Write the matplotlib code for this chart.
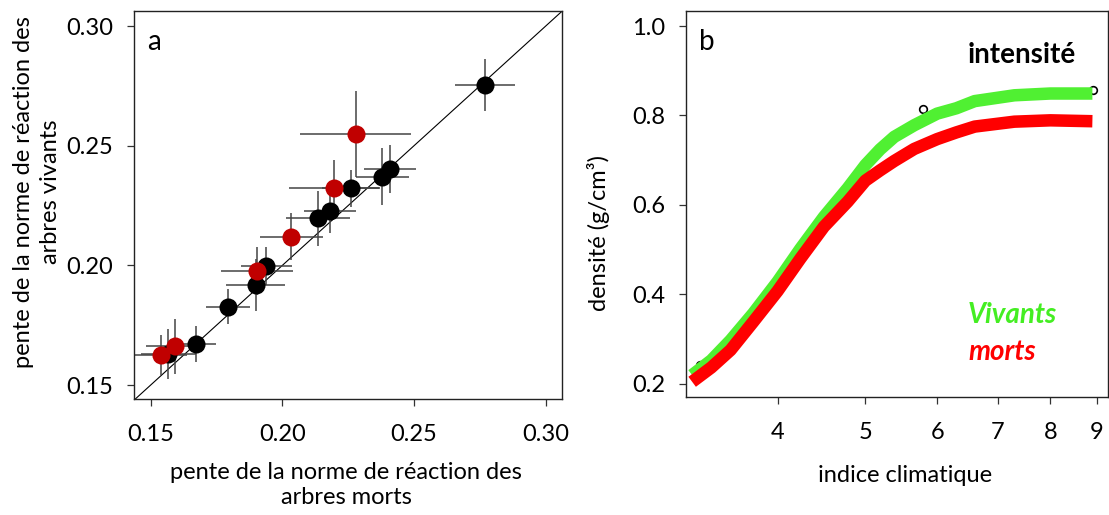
import matplotlib
matplotlib.use("Agg")
import matplotlib.pyplot as plt

plt.rcParams['font.family'] = ['Lato', 'DejaVu Sans']

# panneau a : pentes des normes de réaction (morts en x, vivants en y)
noir_morts = [0.2769, 0.2409, 0.2379, 0.2260, 0.2181, 0.2136, 0.1940, 0.1900, 0.1795, 0.1671, 0.1567]
noir_vivants = [0.2754, 0.2403, 0.2371, 0.2322, 0.2227, 0.2197, 0.1999, 0.1918, 0.1828, 0.1672, 0.1630]
noir_err_x = [0.0115, 0.0098, 0.0101, 0.0110, 0.0098, 0.0121, 0.0095, 0.0112, 0.0083, 0.0077, 0.0104]
noir_err_y = [0.0110, 0.0100, 0.0118, 0.0077, 0.0090, 0.0116, 0.0080, 0.0110, 0.0073, 0.0076, 0.0106]

rouge_morts = [0.2278, 0.2196, 0.2034, 0.1904, 0.1591, 0.1539]
rouge_vivants = [0.2549, 0.2325, 0.2120, 0.1978, 0.1663, 0.1626]
rouge_err_x = [0.0210, 0.0170, 0.0120, 0.0137, 0.0108, 0.0100]
rouge_err_y = [0.0180, 0.0115, 0.0098, 0.0100, 0.0115, 0.0085]

ticks_a = [0.15, 0.20, 0.25, 0.30]

# panneau b : densité selon l'indice climatique
indice = [3.22, 3.38, 3.55, 3.76, 4.0, 4.24, 4.5, 4.78, 5.0, 5.19, 5.38, 5.66, 6.0, 6.3, 6.6, 7.3, 8.0, 8.9]
dens_vivants = [0.219, 0.252, 0.297, 0.357, 0.428, 0.502, 0.573, 0.637, 0.689, 0.724, 0.752, 0.778,
                0.804, 0.816, 0.832, 0.845, 0.849, 0.849]
dens_morts = [0.204, 0.236, 0.275, 0.338, 0.407, 0.480, 0.551, 0.607, 0.654, 0.677, 0.698, 0.725,
              0.747, 0.762, 0.775, 0.786, 0.789, 0.787]
pts_x = [3.285, 5.785, 8.91]
pts_y = [0.241, 0.815, 0.857]

ticks_b = [4, 5, 6, 7, 8, 9]
ticks_b_y = [0.2, 0.4, 0.6, 0.8, 1.0]

W, H = 1109, 515
fig = plt.figure(figsize=(W / 100, H / 100), dpi=100)

def box(x0, y0, x1, y1):
    return [x0 / W, 1 - y1 / H, (x1 - x0) / W, (y1 - y0) / H]

fs = 17

# texts placed in pixels, y counted from the top
def ftxt(x, y, s, size=fs, **kw):
    kw.setdefault('ha', 'center')
    kw.setdefault('va', 'center')
    fig.text(x / W, 1 - y / H, s, fontsize=size, **kw)

# ---- a ----
ax1 = fig.add_axes(box(134, 11, 562, 399))
ax1.plot([0.1, 0.4], [0.1, 0.4], color='black', lw=0.8, zorder=1)
ax1.errorbar(noir_morts, noir_vivants, xerr=noir_err_x, yerr=noir_err_y,
             fmt='none', ecolor='#444444', elinewidth=1.1, zorder=2)
ax1.errorbar(rouge_morts, rouge_vivants, xerr=rouge_err_x, yerr=rouge_err_y,
             fmt='none', ecolor='#444444', elinewidth=1.1, zorder=2)
ax1.plot(noir_morts, noir_vivants, 'o', color='black', ms=13, mew=0, zorder=3)
ax1.plot(rouge_morts, rouge_vivants, 'o', color='#c00000', ms=13, mew=0, zorder=4)
ax1.set_xlim(0.1437, 0.3062)
ax1.set_ylim(0.1442, 0.3063)
ax1.set_xticks(ticks_a)
ax1.set_xticklabels(['%.2f' % t for t in ticks_a])
ax1.set_yticks(ticks_a)
ax1.set_yticklabels(['%.2f' % t for t in ticks_a])
ftxt(147, 42, 'a', size=20, ha='left')

# ---- b ----
ax2 = fig.add_axes(box(686, 11, 1108, 397))
ax2.plot(indice, dens_vivants, color='#50f032', lw=9, solid_capstyle='butt',
         solid_joinstyle='round', zorder=2)
ax2.plot(indice, dens_morts, color='#ff0000', lw=9, solid_capstyle='butt',
         solid_joinstyle='round', zorder=3)
ax2.plot(pts_x, pts_y, 'o', mfc='none', mec='black', ms=5.5, mew=1.2, zorder=1)
ax2.set_xscale('log')
ax2.set_xlim(3.17, 9.26)
ax2.set_ylim(0.17, 1.0336)
ax2.set_xticks(ticks_b)
ax2.set_xticklabels([str(t) for t in ticks_b])
ax2.xaxis.set_minor_locator(matplotlib.ticker.NullLocator())
ax2.set_yticks(ticks_b_y)
ax2.set_yticklabels(['%.1f' % t for t in ticks_b_y])
ftxt(699, 42, 'b', size=20, ha='left')
ftxt(968, 55, 'intensité', size=20, fontweight='bold', ha='left')
ftxt(968, 315, 'Vivants', size=20, fontweight='bold', style='italic', color='#44ee22', ha='left')
ftxt(968, 352, 'morts', size=20, fontweight='bold', style='italic', color='#ff0000', ha='left')

for ax in (ax1, ax2):
    for s in ax.spines.values():
        s.set_linewidth(1.0)
        s.set_color('#222222')
    ax.tick_params(length=5, width=0.9, labelsize=fs, color='#333333')
    ax.tick_params(axis='x', pad=13)
    ax.tick_params(axis='y', pad=10)

ftxt(346, 485, 'pente de la norme de réaction des\narbres morts', linespacing=1.2)
ftxt(37, 192, 'pente de la norme de réaction des\narbres vivants', rotation=90, linespacing=1.3)
ftxt(598, 233, 'densité (g/cm³)', rotation=90)
ftxt(905, 475, 'indice climatique')

fig.savefig('out.png', dpi=100)
